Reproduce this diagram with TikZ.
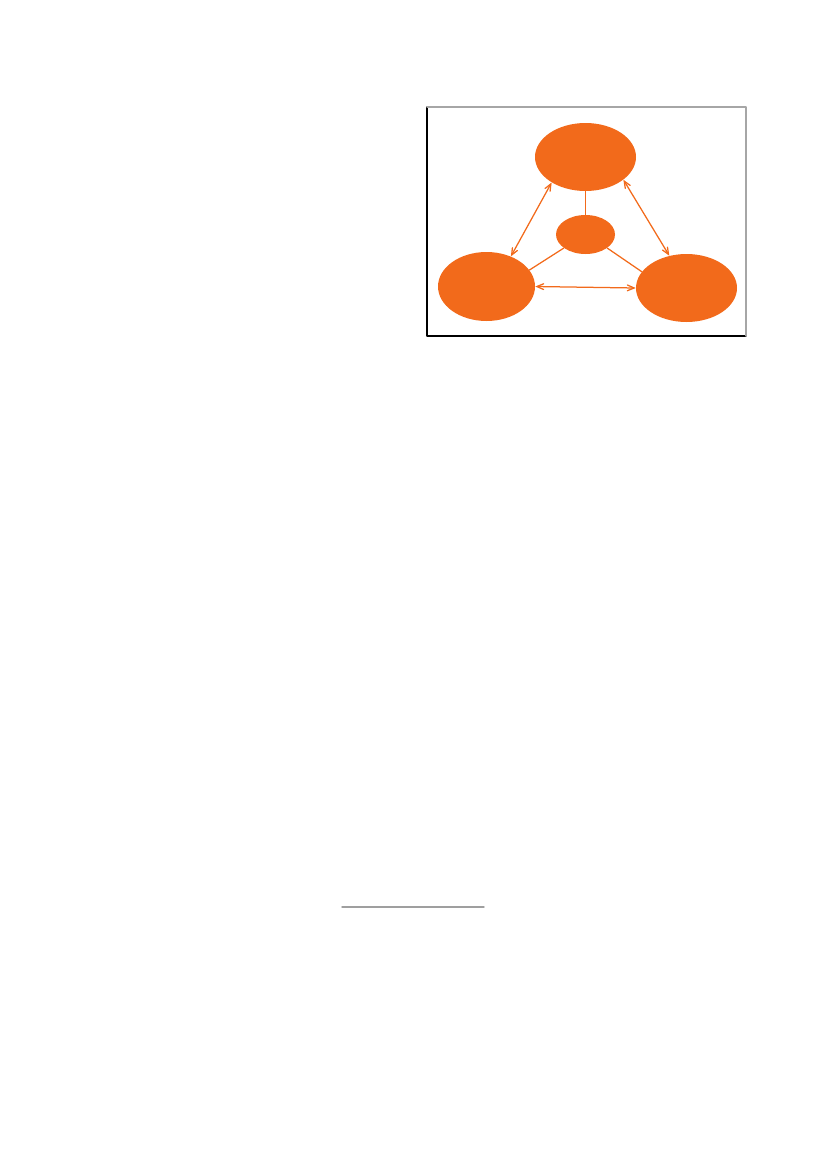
\documentclass[tikz,border=0pt]{standalone}
\usepackage{tikz}
\usetikzlibrary{arrows}
\usetikzlibrary{shapes.geometric}
\definecolor{blob}{RGB}{242,106,27}

\begin{document}
\begin{tikzpicture}[line cap=round,line join=round,>=angle 45,x=0.72pt,y=-0.72pt,
    blobnode/.style={ellipse, fill=blob, draw=none, inner sep=0pt},
    link/.style={draw=blob, line width=0.9pt}]
    \useasboundingbox (0,0) rectangle (827,1169);

    % frame
    \draw [line width=0.8pt] (427,107) -- (427,336) -- (746,336);
    \draw [line width=0.8pt, gray!70] (427,107) -- (746,107) -- (746,336);

    \node[blobnode, minimum width=101*0.72pt, minimum height=68*0.72pt] (top) at (585.5,157) {};
    \node[blobnode, minimum width=59*0.72pt, minimum height=39*0.72pt] (hub) at (585.5,234.5) {};
    \node[blobnode, minimum width=97*0.72pt, minimum height=69*0.72pt] (left) at (486.5,286.5) {};
    \node[blobnode, minimum width=101*0.72pt, minimum height=68*0.72pt] (right) at (686.5,288) {};

    \draw [link] (top.south) -- (hub.north);
    \draw [link] (hub.212) -- (left.21);
    \draw [link] (hub.328) -- (right.160);

    \draw [link, <->] (top.217) -- (left.51);
    \draw [link, <->] (top.329) -- (right.118);
    \draw [link, <->] (left.east) -- (right.west);

    % footnote rule
    \coordinate (ruleA) at (342,907);
    \coordinate (ruleB) at (484,907);
    \draw [line width=1pt, gray!75] (ruleA) -- (ruleB);
\end{tikzpicture}
\end{document}
